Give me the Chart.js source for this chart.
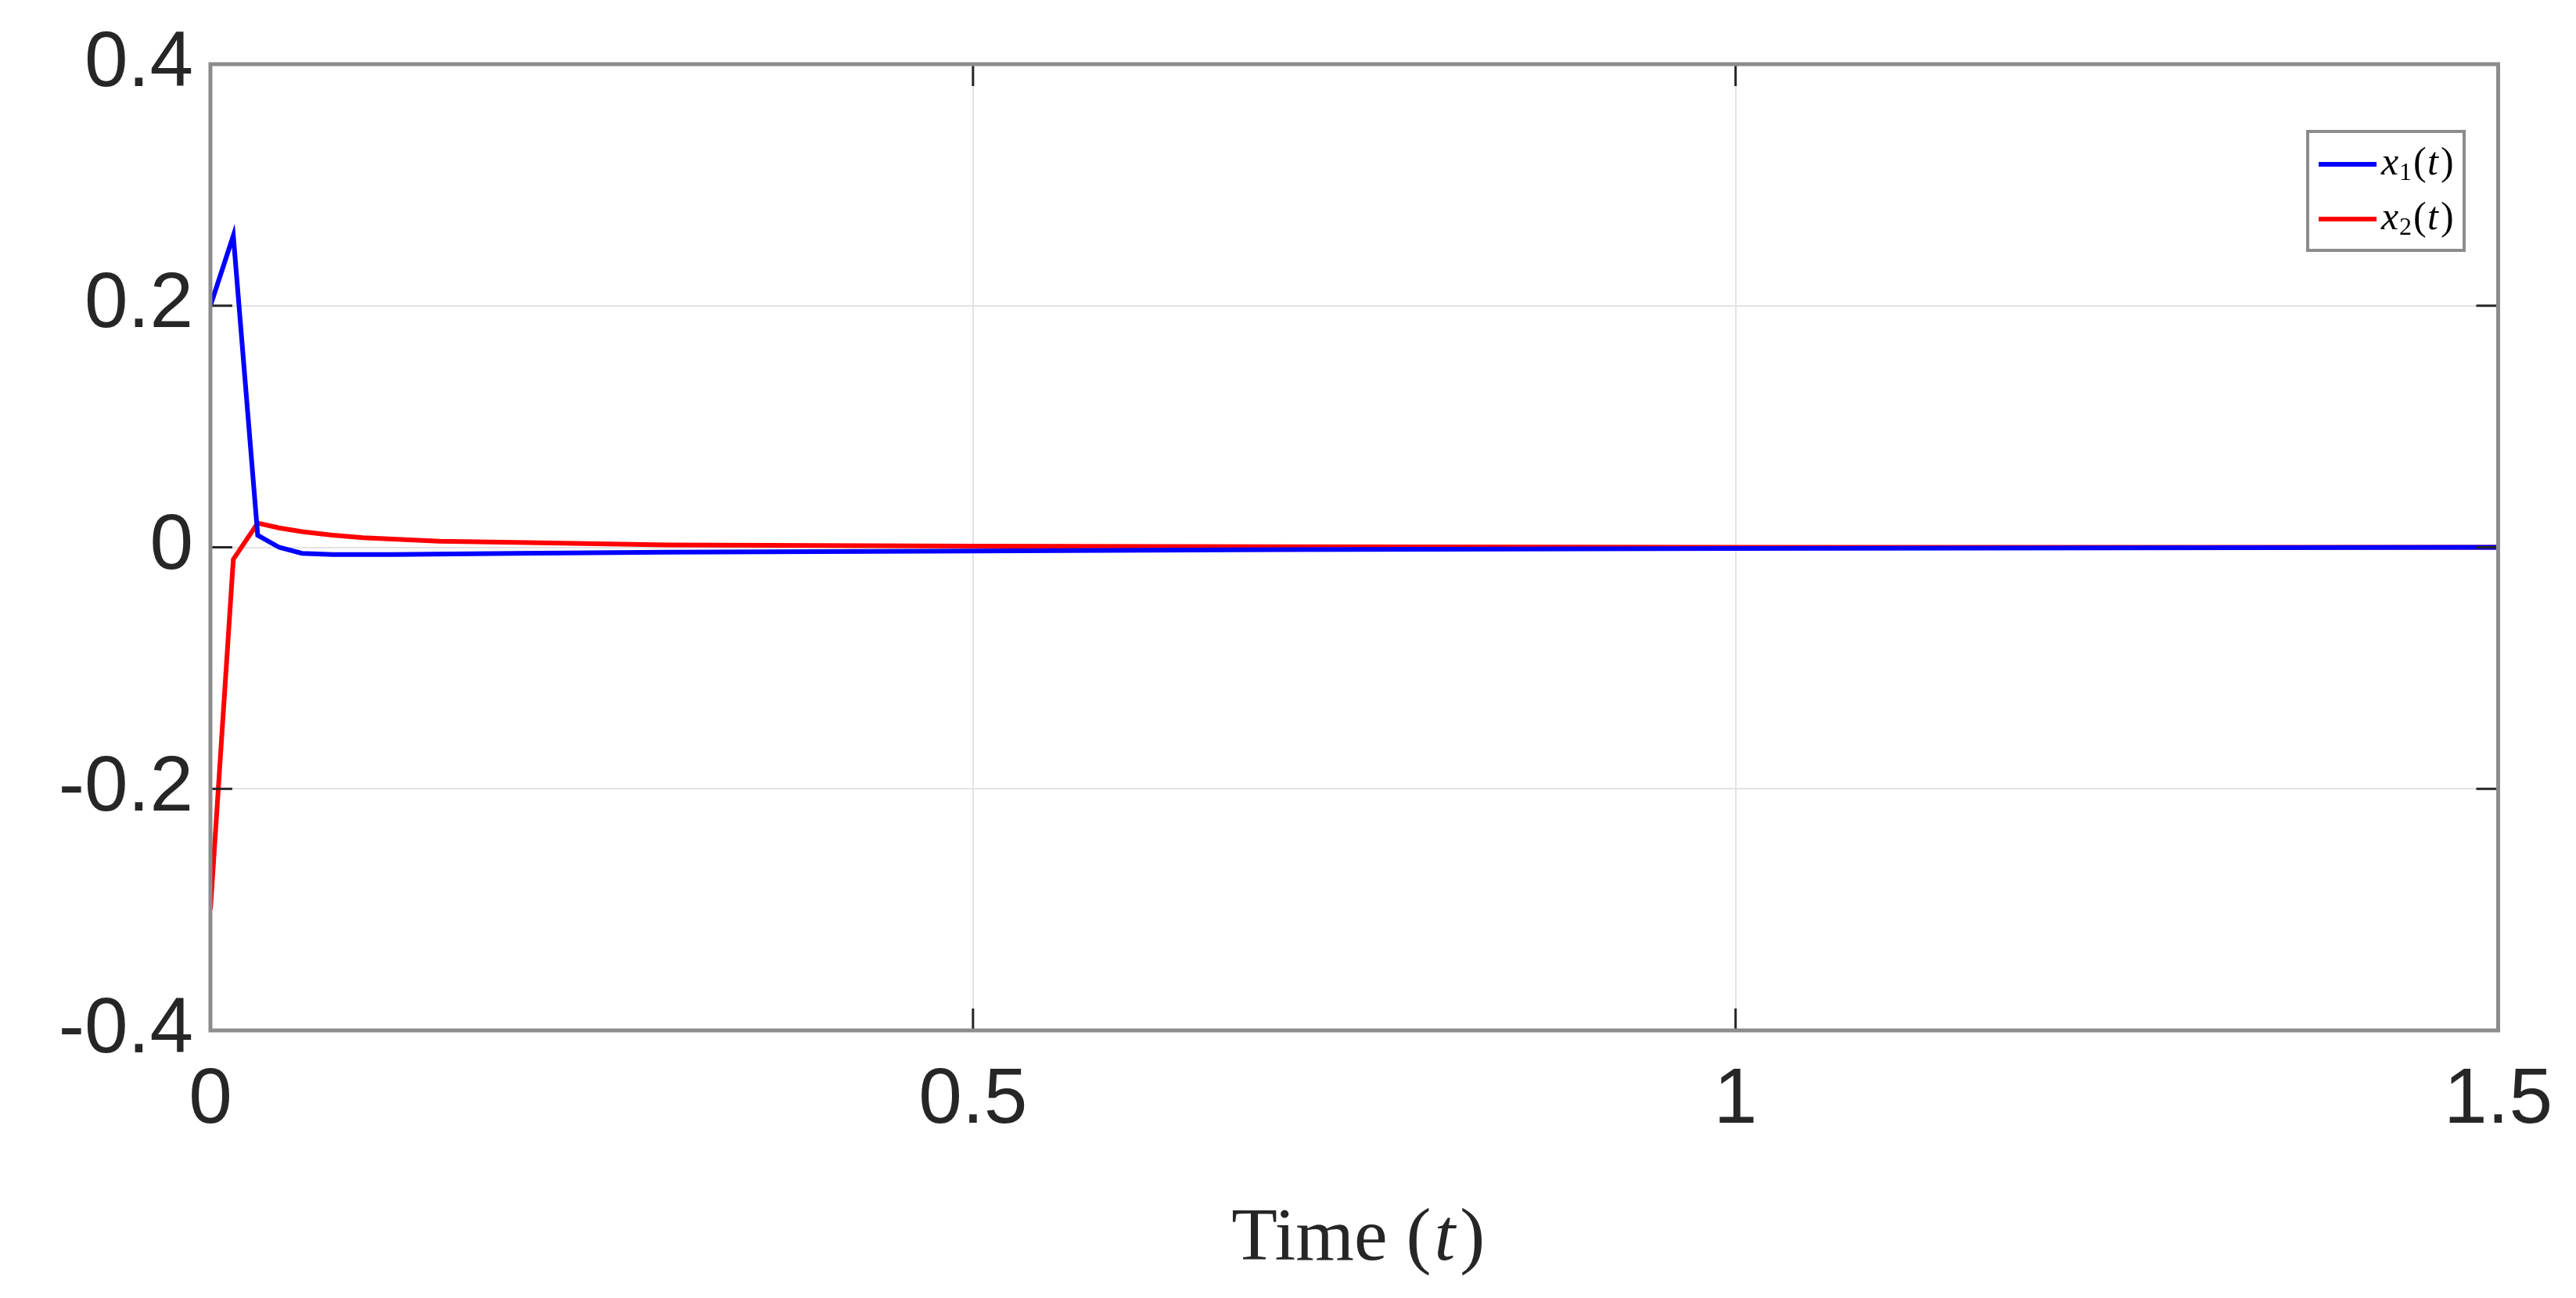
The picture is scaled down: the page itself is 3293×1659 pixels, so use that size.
<!DOCTYPE html>
<html>
<head>
<meta charset="utf-8">
<script src="https://cdn.jsdelivr.net/npm/chart.js@4.4.1/dist/chart.umd.min.js"></script>
<style>
  html, body { margin: 0; padding: 0; background: #fff; }
  #wrap { width: 3293px; height: 1659px; }
</style>
</head>
<body>
<div id="wrap"><canvas id="chart"></canvas></div>
<script>
const tX1 = [0, 0.015, 0.031, 0.045, 0.06, 0.08, 0.12, 0.2, 0.3, 0.5, 0.7, 1.0, 1.5];
const x1 = [0.2, 0.258, 0.01, 0.0, -0.005, -0.006, -0.006, -0.005, -0.004, -0.003, -0.002, -0.001, 0];
const tX2 = [0, 0.015, 0.031, 0.045, 0.06, 0.08, 0.1, 0.15, 0.2, 0.3, 0.5, 0.7, 1.0, 1.5];
const x2 = [-0.3, -0.01, 0.02, 0.016, 0.013, 0.01, 0.008, 0.005, 0.004, 0.002, 0.001, 0.0005, 0, 0];
const xTicks = [0, 0.5, 1, 1.5];
const yTicks = [-0.4, -0.2, 0, 0.2, 0.4];
const legendItems = [
    { sub: '1', color: '#0000ff' },
    { sub: '2', color: '#ff0000' }
];

function pts(t, v) {
    return t.map((tt, i) => ({ x: tt, y: v[i] }));
}

const frame = {
    id: 'frame',
    afterDraw(chart) {
        const ctx = chart.ctx;
        const a = chart.chartArea;
        const xs = chart.scales.x, ys = chart.scales.y;
        ctx.save();
        ctx.strokeStyle = '#262626';
        ctx.lineWidth = 3;
        const tl = 28;
        ctx.beginPath();
        xTicks.forEach(v => {
            const px = xs.getPixelForValue(v);
            ctx.moveTo(px, a.bottom); ctx.lineTo(px, a.bottom - tl);
            ctx.moveTo(px, a.top); ctx.lineTo(px, a.top + tl);
        });
        yTicks.forEach(v => {
            const py = ys.getPixelForValue(v);
            ctx.moveTo(a.left, py); ctx.lineTo(a.left + tl, py);
            ctx.moveTo(a.right, py); ctx.lineTo(a.right - tl, py);
        });
        ctx.stroke();
        ctx.strokeStyle = '#8c8c8c';
        ctx.lineWidth = 5;
        ctx.strokeRect(a.left, a.top, a.right - a.left, a.bottom - a.top);

        // x-axis title with italic t
        ctx.fillStyle = '#262626';
        ctx.textBaseline = 'alphabetic';
        const cx = (a.left + a.right) / 2;
        const ty = 1610;
        ctx.font = '96px "Liberation Serif"';
        const w1 = ctx.measureText('Time (').width;
        ctx.font = 'italic 96px "Liberation Serif"';
        const w2 = ctx.measureText('t').width;
        ctx.font = '96px "Liberation Serif"';
        const w3 = ctx.measureText(')').width;
        let sx = cx - (w1 + w2 + w3) / 2;
        ctx.fillText('Time (', sx, ty);
        ctx.font = 'italic 96px "Liberation Serif"';
        ctx.fillText('t', sx + w1 + 4, ty);
        ctx.font = '96px "Liberation Serif"';
        ctx.fillText(')', sx + w1 + w2 + 10, ty);

        // legend box
        const bx = 2950, by = 168, bw = 200, bh = 152;
        ctx.fillStyle = '#fff';
        ctx.fillRect(bx, by, bw, bh);
        ctx.strokeStyle = '#8c8c8c';
        ctx.lineWidth = 4;
        ctx.strokeRect(bx, by, bw, bh);
        legendItems.forEach((it, i) => {
            const cy = by + 42 + i * 70;
            ctx.strokeStyle = it.color;
            ctx.lineWidth = 6;
            ctx.beginPath();
            ctx.moveTo(bx + 14, cy); ctx.lineTo(bx + 88, cy);
            ctx.stroke();
            ctx.fillStyle = '#000';
            ctx.textBaseline = 'middle';
            ctx.font = 'italic 50px "Liberation Serif"';
            ctx.fillText('x', bx + 94, cy);
            ctx.font = '32px "Liberation Serif"';
            ctx.fillText(it.sub, bx + 117, cy + 12);
            ctx.font = '50px "Liberation Serif"';
            ctx.fillText('(', bx + 135, cy);
            ctx.font = 'italic 50px "Liberation Serif"';
            ctx.fillText('t', bx + 153, cy);
            ctx.font = '50px "Liberation Serif"';
            ctx.fillText(')', bx + 170, cy);
        });
        ctx.restore();
    }
};

new Chart(document.getElementById('chart'), {
    type: 'line',
    data: {
        datasets: [
            { label: 'x1(t)', data: pts(tX1, x1), borderColor: '#0000ff', borderWidth: 6, pointRadius: 0, tension: 0 },
            { label: 'x2(t)', data: pts(tX2, x2), borderColor: '#ff0000', borderWidth: 6, pointRadius: 0, tension: 0 }
        ]
    },
    options: {
        responsive: true,
        maintainAspectRatio: false,
        animation: false,
        layout: { padding: { left: 0, right: 97, top: 67, bottom: 0 } },
        plugins: { legend: { display: false }, tooltip: { enabled: false } },
        scales: {
            x: {
                type: 'linear', min: 0, max: 1.5,
                afterBuildTicks: s => { s.ticks = xTicks.map(v => ({ value: v })); },
                afterFit: s => { s.height = 342; },
                grid: { color: '#e3e3e3', lineWidth: 2, drawTicks: false },
                border: { display: false },
                ticks: { color: '#262626', font: { family: 'Liberation Sans', size: 100 }, padding: 30, maxRotation: 0,
                    callback: v => String(v) }
            },
            y: {
                min: -0.4, max: 0.4,
                afterBuildTicks: s => { s.ticks = yTicks.map(v => ({ value: v })); },
                afterFit: s => { s.width = 269; },
                grid: { color: '#e3e3e3', lineWidth: 2, drawTicks: false },
                border: { display: false },
                ticks: { color: '#262626', font: { family: 'Liberation Sans', size: 100 }, padding: 22,
                    callback: v => String(v) }
            }
        }
    },
    plugins: [frame]
});
</script>
</body>
</html>
